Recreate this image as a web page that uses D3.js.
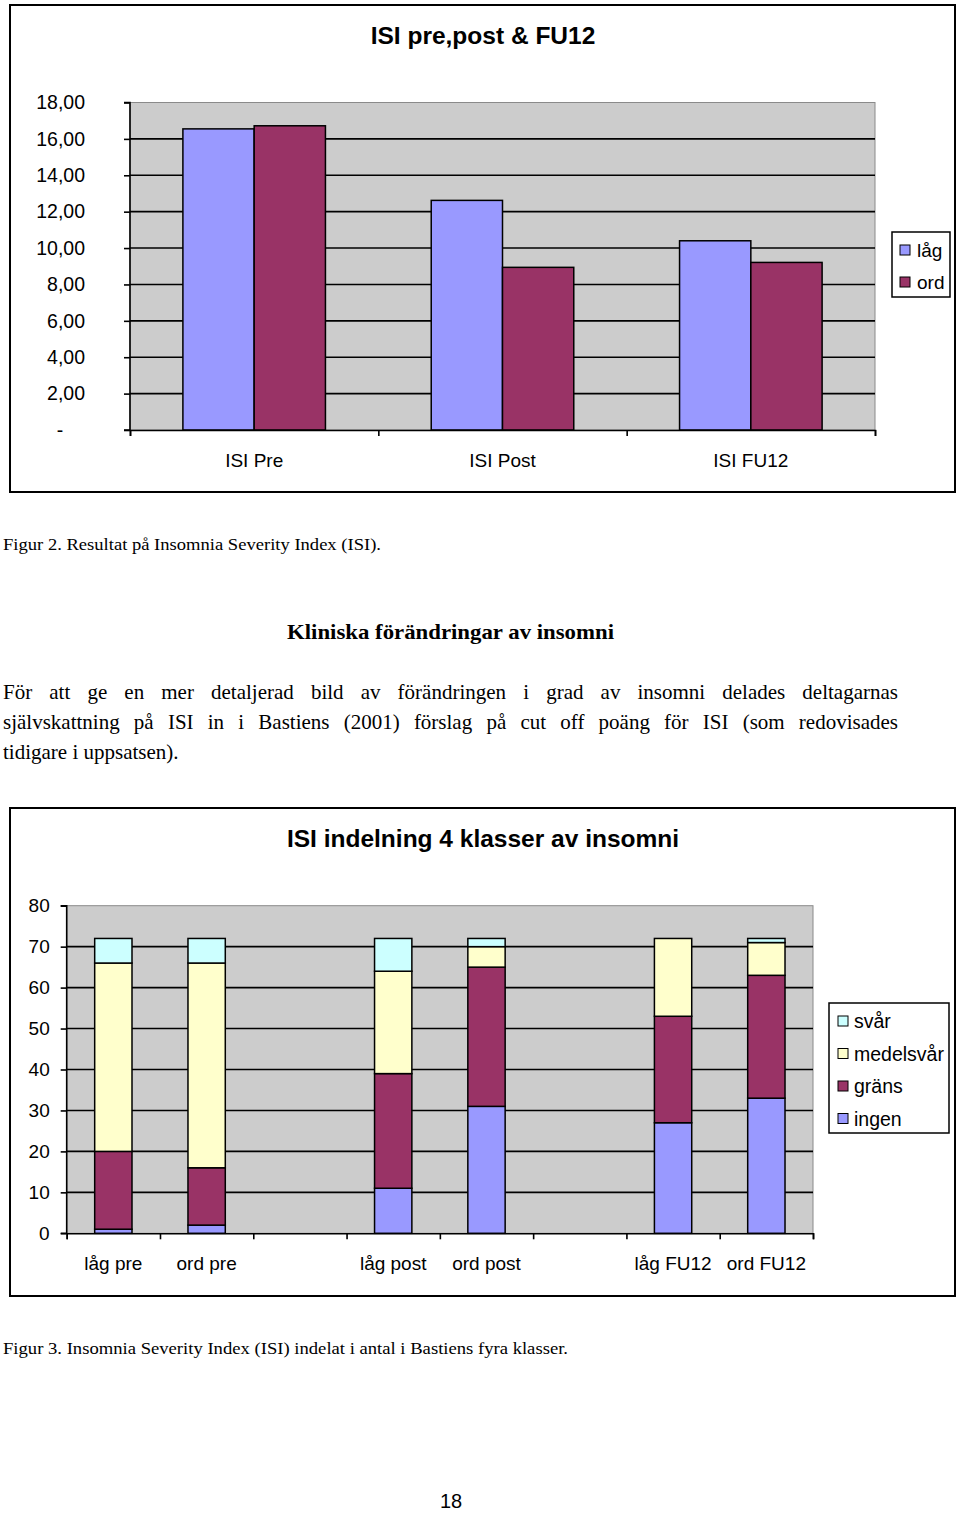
<!DOCTYPE html>
<html><head><meta charset="utf-8">
<script src="https://cdn.jsdelivr.net/npm/d3@7"></script>
<style>body{margin:0;background:#fff}svg{display:block}</style>
</head><body>
<svg id="c" width="960" height="1514"></svg>
<script>
// ---- Data: chart 1 ----
const isiCategories = ["ISI Pre", "ISI Post", "ISI FU12"];
const isiSeries = ["låg", "ord"];
const isiLag = [16.55, 12.62, 10.40];
const isiOrd = [16.72, 8.94, 9.21];
const isiTicks = [0, 2, 4, 6, 8, 10, 12, 14, 16, 18];

// ---- Data: chart 2 ----
const klassCategories = ["låg pre", "ord pre", "", "låg post", "ord post", "", "låg FU12", "ord FU12"];
const klassKeys = ["ingen", "gräns", "medelsvår", "svår"];
const ingen     = [1, 2, null, 11, 31, null, 27, 33];
const grans     = [19, 14, null, 28, 34, null, 26, 30];
const medelsvar = [46, 50, null, 25, 5, null, 19, 8];
const svar      = [6, 6, null, 8, 2, null, 0, 1];
const klassTicks = [0, 10, 20, 30, 40, 50, 60, 70, 80];

const FONT = "'Liberation Sans', Arial, sans-serif";
const SERIF = "'Liberation Serif', 'Times New Roman', serif";
const colors = { "låg": "#9999ff", "ord": "#993366",
  "ingen": "#9999ff", "gräns": "#993366", "medelsvår": "#ffffcc", "svår": "#ccffff" };

const svg = d3.select("#c");
svg.append("rect").attr("width", 960).attr("height", 1514).attr("fill", "#fff");

// ================= Chart 1 =================
const c1 = { left: 130, right: 875, top: 102.5, bottom: 430 };
svg.append("rect").attr("x", 10).attr("y", 5).attr("width", 945).attr("height", 487)
  .attr("fill", "#fff").attr("stroke", "#000").attr("stroke-width", 2);
svg.append("text").attr("x", 483).attr("y", 44).attr("text-anchor", "middle")
  .attr("font-family", FONT).attr("font-weight", "bold").attr("font-size", 24.5)
  .text("ISI pre,post & FU12");

const y1 = d3.scaleLinear().domain([0, 18]).range([c1.bottom, c1.top]);
const x0 = d3.scaleBand().domain(isiCategories).range([c1.left, c1.right]);
const step1 = x0.step();
const x1 = d3.scaleBand().domain(isiSeries).range([0.213 * step1, 0.787 * step1]);

const g1 = svg.append("g");
g1.append("rect").attr("x", c1.left).attr("y", c1.top).attr("width", c1.right - c1.left)
  .attr("height", c1.bottom - c1.top).attr("fill", "#cccccc").attr("stroke", "#8a8a8a").attr("stroke-width", 1);
g1.selectAll("line.grid").data(isiTicks.filter(d => d > 0 && d < 18)).join("line")
  .attr("x1", c1.left).attr("x2", c1.right).attr("y1", d => y1(d)).attr("y2", d => y1(d))
  .attr("stroke", "#000").attr("stroke-width", 1.6);

const rows1 = isiCategories.map((c, i) => ({ cat: c, vals: [{ k: "låg", v: isiLag[i] }, { k: "ord", v: isiOrd[i] }] }));
g1.selectAll("g.cat").data(rows1).join("g").attr("transform", d => `translate(${x0(d.cat)},0)`)
  .selectAll("rect").data(d => d.vals).join("rect")
  .attr("x", d => x1(d.k)).attr("width", x1.bandwidth())
  .attr("y", d => y1(d.v)).attr("height", d => y1(0) - y1(d.v))
  .attr("fill", d => colors[d.k]).attr("stroke", "#000").attr("stroke-width", 1.5);

const yAxis1 = d3.axisLeft(y1).tickValues(isiTicks).tickSize(6).tickPadding(39)
  .tickFormat(d => d === 0 ? "-" : d3.format(".2f")(d).replace(".", ","));
const ya1 = g1.append("g").attr("transform", `translate(${c1.left},0)`).call(yAxis1);
ya1.select(".domain").attr("stroke", "#000").attr("stroke-width", 1.6).attr("d", `M-6,${c1.top}H0V${c1.bottom}H-6`);
ya1.selectAll(".tick line").attr("stroke", "#000").attr("stroke-width", 1.6);
ya1.selectAll(".tick text").attr("font-family", FONT).attr("font-size", 19.5).attr("fill", "#000");
ya1.selectAll(".tick text").filter(d => d === 0).attr("text-anchor", "middle").attr("x", -70);

const xe1 = d3.scaleLinear().domain([0, isiCategories.length]).range([c1.left, c1.right]);
const xa1 = g1.append("g").attr("transform", `translate(0,${c1.bottom})`)
  .call(d3.axisBottom(xe1).tickValues(d3.range(isiCategories.length + 1)).tickSize(6).tickFormat(""));
xa1.selectAll("path,line").attr("stroke", "#000").attr("stroke-width", 1.6);
g1.selectAll("text.xl").data(isiCategories).join("text")
  .attr("x", d => x0(d) + step1 / 2).attr("y", 467).attr("text-anchor", "middle")
  .attr("font-family", FONT).attr("font-size", 19).text(d => d);

// legend 1
const l1 = svg.append("g").attr("transform", "translate(892,232)");
l1.append("rect").attr("width", 58).attr("height", 65).attr("fill", "#fff").attr("stroke", "#000").attr("stroke-width", 1.5);
l1.selectAll("g").data(isiSeries).join("g").attr("transform", (d, i) => `translate(8,${19 + i * 32})`)
  .call(g => {
    g.append("rect").attr("x", 0).attr("y", -6).attr("width", 10).attr("height", 10)
      .attr("fill", d => colors[d]).attr("stroke", "#000").attr("stroke-width", 1);
    g.append("text").attr("x", 17).attr("y", 6).attr("font-family", FONT).attr("font-size", 19).text(d => d);
  });

// ================= Text =================
svg.append("text").attr("x", 3).attr("y", 550).attr("font-family", SERIF).attr("font-size", 17)
  .attr("textLength", 378).attr("lengthAdjust", "spacingAndGlyphs")
  .text("Figur 2. Resultat på Insomnia Severity Index (ISI).");
svg.append("text").attr("x", 287).attr("y", 639).attr("font-family", SERIF)
  .attr("font-weight", "bold").attr("font-size", 22)
  .attr("textLength", 327).attr("lengthAdjust", "spacingAndGlyphs")
  .text("Kliniska förändringar av insomni");

const para = [
  { t: "För att ge en mer detaljerad bild av förändringen i grad av insomni delades deltagarnas", y: 699, j: true },
  { t: "självskattning på ISI in i Bastiens (2001) förslag på cut off poäng för ISI (som redovisades", y: 729, j: true },
  { t: "tidigare i uppsatsen).", y: 759, j: false }
];
para.forEach(p => {
  const t = svg.append("text").attr("x", 3).attr("y", p.y).attr("font-family", SERIF).attr("font-size", 21).text(p.t);
  if (p.j) {
    const w = t.node().getComputedTextLength();
    const spaces = p.t.split(" ").length - 1;
    t.attr("word-spacing", (895 - w) / spaces);
  }
});

// ================= Chart 2 =================
const c2 = { left: 66.7, right: 813, top: 905.7, bottom: 1233.3 };
svg.append("rect").attr("x", 10).attr("y", 808).attr("width", 945).attr("height", 488)
  .attr("fill", "#fff").attr("stroke", "#000").attr("stroke-width", 2);
svg.append("text").attr("x", 483).attr("y", 847).attr("text-anchor", "middle")
  .attr("font-family", FONT).attr("font-weight", "bold").attr("font-size", 24.5)
  .text("ISI indelning 4 klasser av insomni");

const y2 = d3.scaleLinear().domain([0, 80]).range([c2.bottom, c2.top]);
const idx = d3.range(klassCategories.length);
const x2 = d3.scaleBand().domain(idx).range([c2.left, c2.right]).paddingInner(0.6).paddingOuter(0.3);
const g2 = svg.append("g");
g2.append("rect").attr("x", c2.left).attr("y", c2.top).attr("width", c2.right - c2.left)
  .attr("height", c2.bottom - c2.top).attr("fill", "#cccccc").attr("stroke", "#8a8a8a").attr("stroke-width", 1);
g2.selectAll("line.grid").data(klassTicks.filter(d => d > 0 && d < 80)).join("line")
  .attr("x1", c2.left).attr("x2", c2.right).attr("y1", d => y2(d)).attr("y2", d => y2(d))
  .attr("stroke", "#000").attr("stroke-width", 1.6);

const table = idx.map(i => ({ i, "ingen": ingen[i] || 0, "gräns": grans[i] || 0, "medelsvår": medelsvar[i] || 0, "svår": svar[i] || 0, blank: ingen[i] === null }));
const stacked = d3.stack().keys(klassKeys)(table);
g2.selectAll("g.layer").data(stacked).join("g").attr("fill", d => colors[d.key])
  .selectAll("rect").data(d => d.filter(s => !s.data.blank && s[1] > s[0])).join("rect")
  .attr("x", d => x2(d.data.i)).attr("width", x2.bandwidth())
  .attr("y", d => y2(d[1])).attr("height", d => y2(d[0]) - y2(d[1]))
  .attr("stroke", "#000").attr("stroke-width", 1.5);

const ya2 = g2.append("g").attr("transform", `translate(${c2.left},0)`)
  .call(d3.axisLeft(y2).tickValues(klassTicks).tickSize(6).tickPadding(11).tickFormat(d3.format("d")));
ya2.select(".domain").attr("stroke", "#000").attr("stroke-width", 1.6).attr("d", `M-6,${c2.top}H0V${c2.bottom}H-6`);
ya2.selectAll(".tick line").attr("stroke", "#000").attr("stroke-width", 1.6);
ya2.selectAll(".tick text").attr("font-family", FONT).attr("font-size", 19).attr("fill", "#000");

const xe2 = d3.scaleLinear().domain([0, klassCategories.length]).range([c2.left, c2.right]);
const xa2 = g2.append("g").attr("transform", `translate(0,${c2.bottom})`)
  .call(d3.axisBottom(xe2).tickValues(d3.range(klassCategories.length + 1)).tickSize(6).tickFormat(""));
xa2.selectAll("path,line").attr("stroke", "#000").attr("stroke-width", 1.6);
g2.selectAll("text.xl").data(idx.filter(i => klassCategories[i])).join("text")
  .attr("x", i => x2(i) + x2.bandwidth() / 2).attr("y", 1270).attr("text-anchor", "middle")
  .attr("font-family", FONT).attr("font-size", 19).text(i => klassCategories[i]);

// legend 2
const legendOrder = klassKeys.slice().reverse();
const l2 = svg.append("g").attr("transform", "translate(829,1003)");
l2.append("rect").attr("width", 120).attr("height", 130).attr("fill", "#fff").attr("stroke", "#000").attr("stroke-width", 1.5);
l2.selectAll("g").data(legendOrder).join("g").attr("transform", (d, i) => `translate(9,${19 + i * 32.5})`)
  .call(g => {
    g.append("rect").attr("x", 0).attr("y", -6).attr("width", 10).attr("height", 10)
      .attr("fill", d => colors[d]).attr("stroke", "#000").attr("stroke-width", 1);
    g.append("text").attr("x", 16).attr("y", 6).attr("font-family", FONT).attr("font-size", 19.5).text(d => d);
  });

svg.append("text").attr("x", 3).attr("y", 1354).attr("font-family", SERIF).attr("font-size", 17)
  .attr("textLength", 565).attr("lengthAdjust", "spacingAndGlyphs")
  .text("Figur 3. Insomnia Severity Index (ISI) indelat i antal i Bastiens fyra klasser.");
svg.append("text").attr("x", 451).attr("y", 1508).attr("text-anchor", "middle")
  .attr("font-family", FONT).attr("font-size", 20).text("18");
</script>
</body></html>
